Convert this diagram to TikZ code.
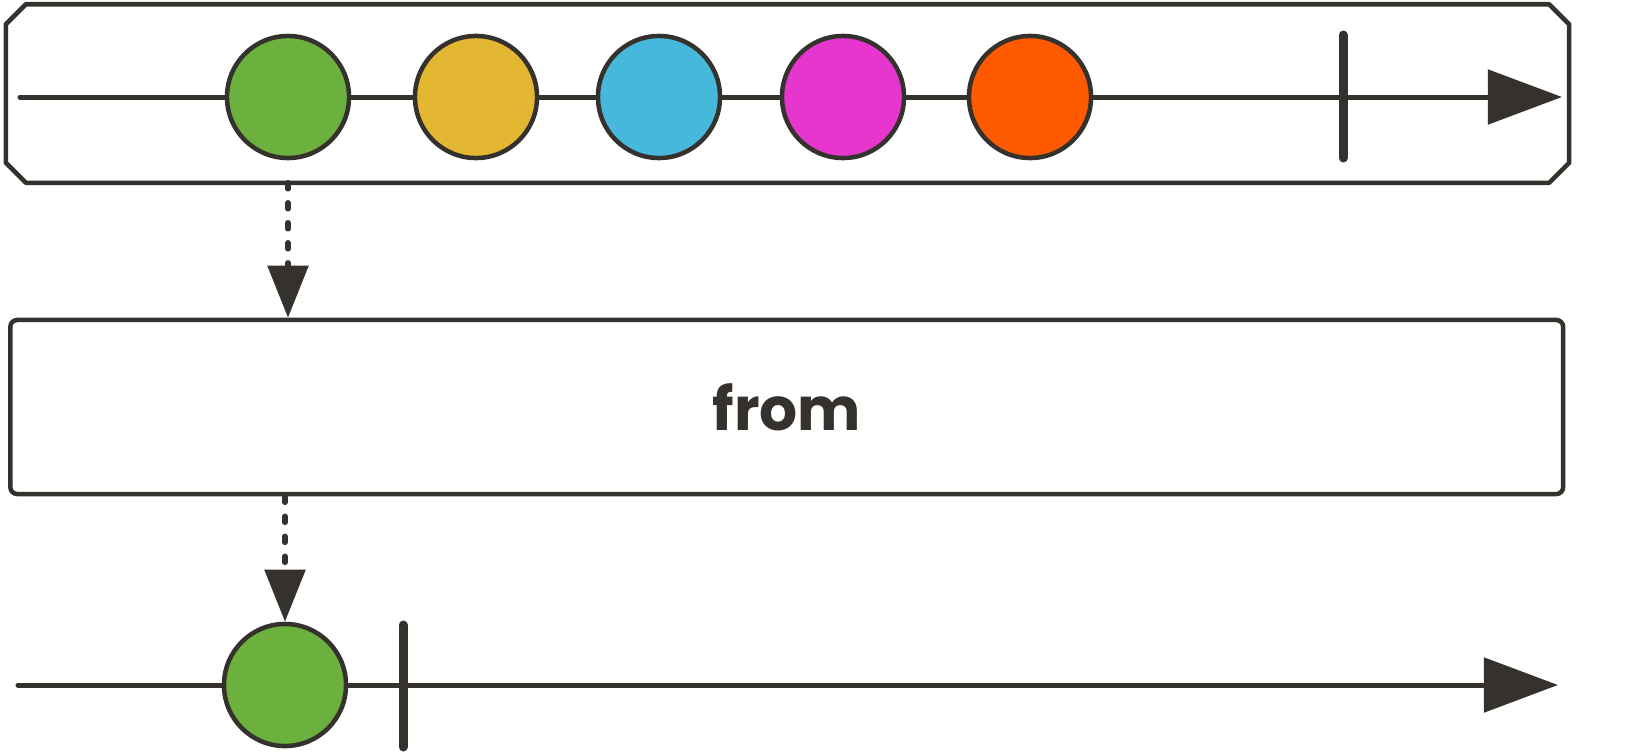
\documentclass[tikz,border=0pt]{standalone}
\usepackage{fontspec}
\newfontfamily\opfont{Poppins}
\usetikzlibrary{arrows.meta, positioning}
\definecolor{mydark}{RGB}{53,49,44}
\definecolor{mygreen}{RGB}{108,177,62}
\definecolor{myyellow}{RGB}{228,183,50}
\definecolor{mycyan}{RGB}{69,184,220}
\definecolor{mymagenta}{RGB}{230,54,205}
\definecolor{myorange}{RGB}{255,90,0}
\tikzset{
  marble/.style={circle, draw=mydark, line width=0.045cm,
    minimum size=1.22cm, inner sep=0pt},
  timeline/.style={line width=0.05cm, color=mydark, line cap=round,
    -{Triangle[length=0.74cm, width=0.54cm]}},
  endmark/.style={line width=0.09cm, color=mydark, line cap=round},
  emitarrow/.style={line width=0.055cm, color=mydark, line cap=round,
    dash pattern=on 0.06cm off 0.14cm,
    -{Triangle[length=0.52cm, width=0.40cm]}},
  srcbox/.style={rectangle, minimum width=15.61cm, minimum height=1.77cm,
    inner sep=0pt},
  boxline/.style={draw=mydark, line width=0.045cm, line join=round},
  opbox/.style={rectangle, draw=mydark, line width=0.045cm, rounded corners=2pt,
    minimum width=15.52cm, minimum height=1.74cm, inner sep=0pt,
    font=\opfont\bfseries\fontsize{17}{20}\selectfont, text=mydark}
}

\begin{document}
\begin{tikzpicture}[x=0.01cm, y=-0.01cm]
  \useasboundingbox (0,0) rectangle (1646,754);

  % Source stream
  \node[srcbox] (src) at (787.5,93.5) {};
  \draw[boxline] ([xshift=0.2cm]src.north west) -- ([xshift=-0.2cm]src.north east)
    -- ([yshift=-0.2cm]src.north east) -- ([yshift=0.2cm]src.south east)
    -- ([xshift=-0.2cm]src.south east) -- ([xshift=0.2cm]src.south west)
    -- ([yshift=0.2cm]src.south west) -- ([yshift=-0.2cm]src.north west) -- cycle;
  \coordinate (srcstart) at (20,97);
  \coordinate (srcend) at (1562,97);
  \draw[timeline] (srcstart) -- (srcend);
  \foreach \name/\px/\col in {s1/288/mygreen, s2/476/myyellow, s3/659/mycyan,
                             s4/843/mymagenta, s5/1030/myorange}
    \node[marble, fill=\col] (\name) at (\px,97) {};
  \draw[endmark] (1343,35) -- (1343,158);

  % Operator
  \node[opbox] (op) at (786.75,407) {from};

  % Result stream
  \coordinate (outstart) at (18,685);
  \coordinate (outend) at (1558,685);
  \draw[timeline] (outstart) -- (outend);
  \node[marble, fill=mygreen] (r1) at (285,685) {};
  \draw[endmark] (403,625) -- (403,747);

  % Emission arrows
  \draw[emitarrow] (s1 |- src.south) -- (s1 |- op.north);
  \draw[emitarrow] (r1 |- op.south) -- (r1.north);
\end{tikzpicture}
\end{document}
